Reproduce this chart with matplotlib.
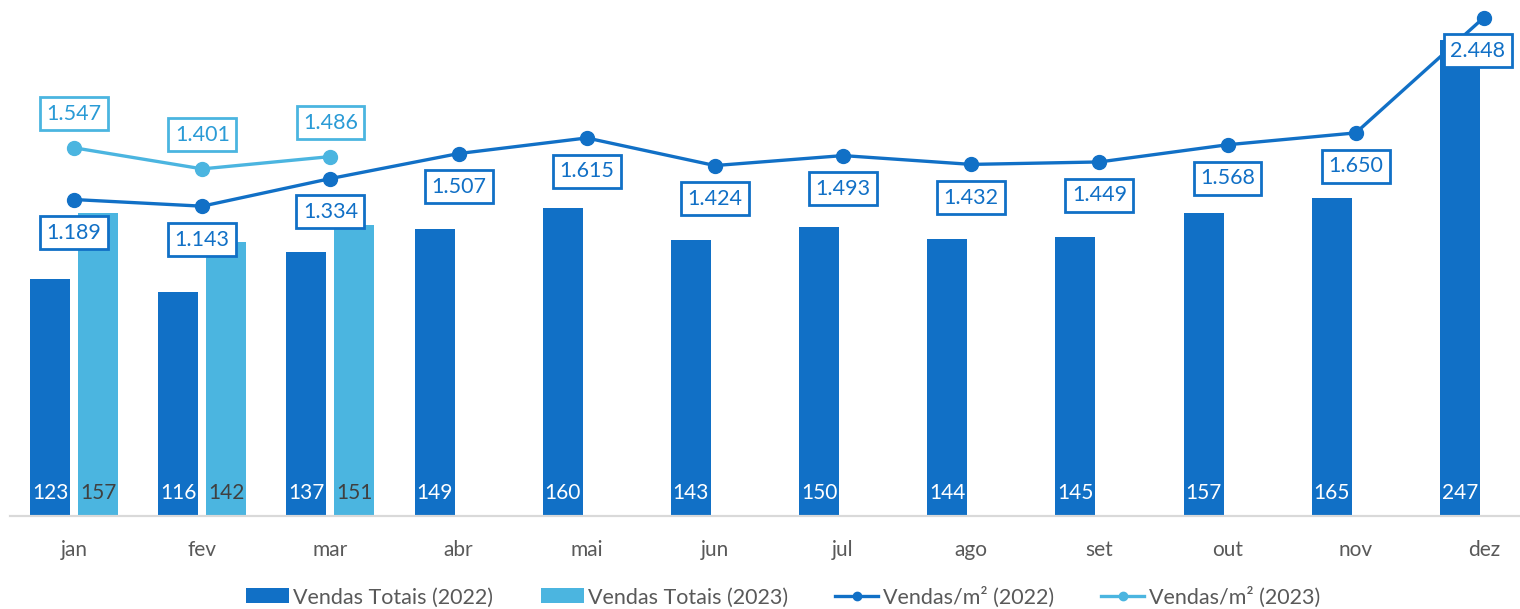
import numpy as np
import matplotlib.pyplot as plt

plt.rcParams['font.family'] = ['Lato', 'DejaVu Sans']

months = ['jan', 'fev', 'mar', 'abr', 'mai', 'jun', 'jul', 'ago', 'set', 'out', 'nov', 'dez']
vendas_2022 = [123, 116, 137, 149, 160, 143, 150, 144, 145, 157, 165, 247]
vendas_2023 = [157, 142, 151]
m2_2022 = [1.189, 1.143, 1.334, 1.507, 1.615, 1.424, 1.493, 1.432, 1.449, 1.568, 1.650, 2.448]
m2_2023 = [1.547, 1.401, 1.486]

c22 = '#1170C6'
c23 = '#4BB5E0'
c23txt = '#2A9BD6'
gray = '#595959'

fig = plt.figure(figsize=(15.2, 6.09), dpi=100)
ax = fig.add_axes([10 / 1520, 93 / 609, 1538 / 1520, 506 / 609])
ax2 = ax.twinx()

x = np.arange(len(months))
x23 = np.arange(len(vendas_2023))
w = 0.3125
off = 0.1875

ax.bar(x - off, vendas_2022, w, color=c22, label='Vendas Totais (2022)')
ax.bar(x23 + off, vendas_2023, w, color=c23, label='Vendas Totais (2023)')

for xi, v in zip(x, vendas_2022):
    ax.annotate(str(v), (xi - off, 0), xytext=(0, 16.5), textcoords='offset points',
                ha='center', va='center', color='white', fontsize=15)
for xi, v in zip(x23, vendas_2023):
    ax.annotate(str(v), (xi + off, 0), xytext=(0, 16.5), textcoords='offset points',
                ha='center', va='center', color='#404040', fontsize=15)

ax2.plot(x, m2_2022, color=c22, lw=2.4, marker='o', ms=10, label='Vendas/m² (2022)')
ax2.plot(x23, m2_2023, color=c23, lw=2.4, marker='o', ms=10, label='Vendas/m² (2023)')

for i, (xi, v) in enumerate(zip(x, m2_2022)):
    dx = -4.5 if i == len(x) - 1 else 0
    ax2.annotate(f'{v:.3f}', (xi, v), xytext=(dx, -24), textcoords='offset points',
                 ha='center', va='center', color=c22, fontsize=15.5,
                 bbox=dict(boxstyle='square,pad=0.3', fc='white', ec=c22, lw=2))
for xi, v in zip(x23, m2_2023):
    ax2.annotate(f'{v:.3f}', (xi, v), xytext=(0, 24.5), textcoords='offset points',
                 ha='center', va='center', color=c23txt, fontsize=15.5,
                 bbox=dict(boxstyle='square,pad=0.3', fc='white', ec=c23, lw=2))

ax.set_xlim(-0.5, 11.5)
ax.set_ylim(0, 262.6)
ax2.set_ylim(-1, 2.5)

ax.set_xticks(x)
ax.set_xticklabels(months, fontsize=15, color=gray)
ax.tick_params(axis='x', length=0, pad=17)
ax.set_yticks([])
ax2.set_yticks([])
for a in (ax, ax2):
    for s in ('top', 'left', 'right'):
        a.spines[s].set_visible(False)
    a.spines['bottom'].set_color('#d9d9d9')
    a.spines['bottom'].set_linewidth(1.5)
ax.set_zorder(ax2.get_zorder() - 1)
ax2.patch.set_visible(False)

h1, l1 = ax.get_legend_handles_labels()
h2, l2 = ax2.get_legend_handles_labels()
leg = fig.legend(h1 + h2, l1 + l2, loc='center', bbox_to_anchor=(0.515, 0.02), ncol=4,
                 frameon=False, fontsize=15.5, handlelength=2.0, handletextpad=0.2,
                 columnspacing=2.2, markerscale=0.6)
for t in leg.get_texts():
    t.set_color(gray)

fig.savefig('out.png', dpi=100)
